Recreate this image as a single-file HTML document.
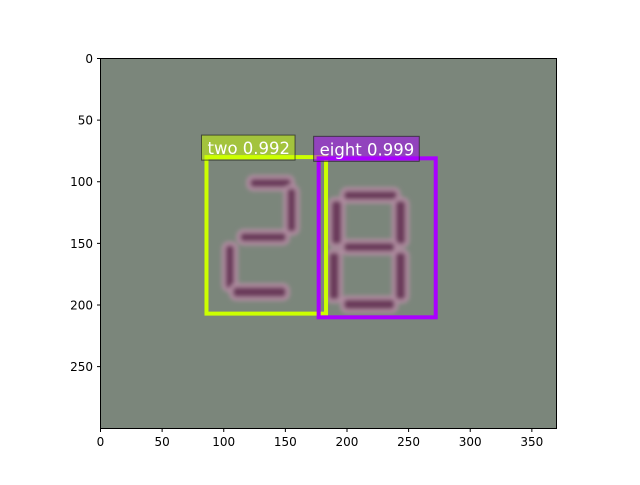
<!DOCTYPE html>
<html><head><meta charset="utf-8"><style>
body{margin:0;background:#fff}
text{font-family:"DejaVu Sans","Liberation Sans",sans-serif}
</style></head><body>
<svg id="c" width="640" height="480" xmlns="http://www.w3.org/2000/svg">
<defs><filter id="bl"><feGaussianBlur stdDeviation="2"/></filter></defs>
<rect x="100.5" y="58.5" width="456" height="370" fill="#7b867b"/>
<g id="digits" filter="url(#bl)"></g>
<g id="marks"></g>
<rect x="100.5" y="58.5" width="456" height="370" fill="none" stroke="#000" stroke-width="1"/>
<g id="ticks" font-size="12" fill="#000"></g>
</svg>
<script>
const xTicks=[0,50,100,150,200,250,300,350];
const yTicks=[0,50,100,150,200,250];
const boxLabels=["two 0.992","eight 0.999"];
const boxX1=[86,177];
const boxX2=[183,272];
const boxY1=[80,81];
const boxY2=[207,210];
const boxColors=["#ccff00","#aa00ff"];
const X0=100.5,Y0=58.5,S=456/370;
const sx=v=>X0+v*S, sy=v=>Y0+v*S;
const NS="http://www.w3.org/2000/svg";
function mk(t,a,p){const e=document.createElementNS(NS,t);for(const k in a)e.setAttribute(k,a[k]);p.appendChild(e);return e;}
const dg=document.getElementById('digits');
const segs=[[120,96,156,106],[150,104,160,142],[112,140,152,150],[100,150,110,188],[106,184,152,195],
[196,106,242,116],[186,114,197,152],[238,114,249,152],[196,148,240,158],[184,156,195,197],[238,156,249,197],[196,194,240,205]];
segs.forEach(s=>{const r=mk('rect',{x:sx(s[0]),y:sy(s[1]),width:(s[2]-s[0])*S,height:(s[3]-s[1])*S,rx:5,fill:'#6a3a5a',stroke:'#b08ca0','stroke-width':4},dg);

});
const m=document.getElementById('marks');
boxLabels.forEach((lab,i)=>{
 const r=mk('rect',{x:sx(boxX1[i]),y:sy(boxY1[i]),width:(boxX2[i]-boxX1[i])*S,height:(boxY2[i]-boxY1[i])*S,fill:'none',stroke:boxColors[i],'stroke-width':4},m);
 
 
 const bg=mk('rect',{x:sx(boxX1[i])-5,y:sy(boxY1[i])-22,width:10,height:25,fill:boxColors[i],'fill-opacity':0.5,stroke:'#222','stroke-opacity':0.7},m);
 
 
 const t=mk('text',{x:sx(boxX1[i])+1,y:sy(boxY1[i])-3,'font-size':16.5,fill:'#fff'},m);
 t.textContent=lab;
 
 
 bg.setAttribute('width',t.getComputedTextLength()+11);
});
const tg=document.getElementById('ticks');
xTicks.forEach(v=>{const x=sx(v);
 const l=mk('line',{x1:x,x2:x,y1:428.5,y2:432,stroke:'#000'},tg);
 
 
 const t=mk('text',{x:x,y:446,'text-anchor':'middle'},tg);t.textContent=v;
 
 });
yTicks.forEach(v=>{const y=sy(v);
 const l=mk('line',{x1:97,x2:100.5,y1:y,y2:y,stroke:'#000'},tg);
 
 
 const t=mk('text',{x:93,y:y+4.5,'text-anchor':'end'},tg);t.textContent=v;
 
 });
</script>
</body></html>
